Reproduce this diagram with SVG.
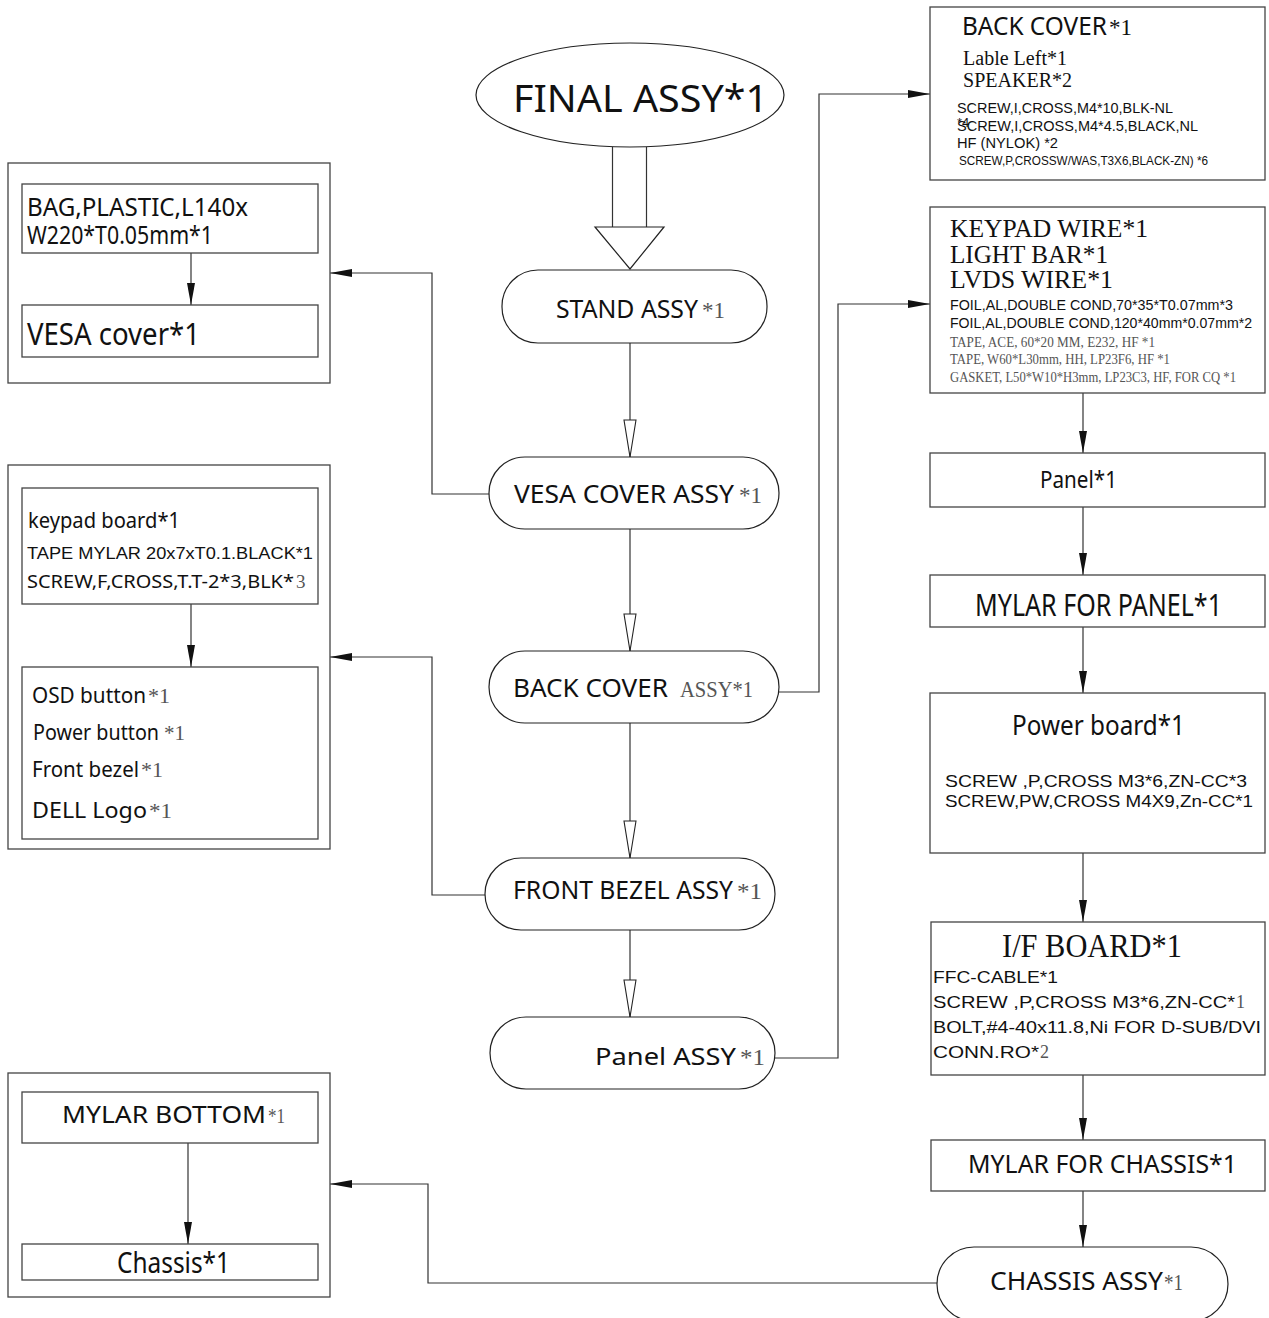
<svg xmlns="http://www.w3.org/2000/svg" width="1269" height="1318" viewBox="0 0 1269 1318">
<defs>
<style>
.box{fill:none;stroke:#444;stroke-width:1.3}
.pill{fill:#fff;stroke:#222;stroke-width:1.2}
.conn{fill:none;stroke:#333;stroke-width:1.2}
.s{font-family:"Noto Sans","Open Sans",sans-serif;fill:#111}
.a{font-family:"Liberation Sans",Arial,sans-serif;fill:#111}
.t{font-family:"Liberation Serif","Times New Roman",serif;fill:#111}
.g{fill:#555}
</style>
<marker id="fa" viewBox="0 0 22 8" refX="22" refY="4" markerWidth="22" markerHeight="8" markerUnits="userSpaceOnUse" orient="auto">
<path d="M0,0 L22,4 L0,8 Z" fill="#111"/>
</marker>
<marker id="ha" viewBox="-1 -7 39 14" refX="37" refY="0" markerWidth="39" markerHeight="14" markerUnits="userSpaceOnUse" orient="auto" overflow="visible">
<path d="M0,-6 L37,0 L0,6 Z" fill="#fff" stroke="#222" stroke-width="1.1"/>
</marker>
</defs>
<rect width="1269" height="1318" fill="#fff"/>

<g id="connectors">
<line class="conn" x1="612.5" y1="147" x2="612.5" y2="227"/>
<line class="conn" x1="646.5" y1="147" x2="646.5" y2="227"/>
<polygon points="595,227 664,227 630,269" fill="#fff" stroke="#222" stroke-width="1.2"/>
<line class="conn" x1="630" y1="343" x2="630" y2="457" marker-end="url(#ha)"/>
<line class="conn" x1="630" y1="529" x2="630" y2="651" marker-end="url(#ha)"/>
<line class="conn" x1="630" y1="723" x2="630" y2="858" marker-end="url(#ha)"/>
<line class="conn" x1="630" y1="930" x2="630" y2="1017" marker-end="url(#ha)"/>
<polyline class="conn" points="489,494 432,494 432,273 330,273" marker-end="url(#fa)"/>
<polyline class="conn" points="485,895 432,895 432,657 330,657" marker-end="url(#fa)"/>
<polyline class="conn" points="937,1283 428,1283 428,1184 330,1184" marker-end="url(#fa)"/>
<polyline class="conn" points="779,692 819,692 819,94 930,94" marker-end="url(#fa)"/>
<polyline class="conn" points="775,1058 838,1058 838,304 930,304" marker-end="url(#fa)"/>
<line class="conn" x1="1083" y1="393" x2="1083" y2="453" marker-end="url(#fa)"/>
<line class="conn" x1="1083" y1="507" x2="1083" y2="575" marker-end="url(#fa)"/>
<line class="conn" x1="1083" y1="627" x2="1083" y2="693" marker-end="url(#fa)"/>
<line class="conn" x1="1083" y1="853" x2="1083" y2="922" marker-end="url(#fa)"/>
<line class="conn" x1="1083" y1="1075" x2="1083" y2="1140" marker-end="url(#fa)"/>
<line class="conn" x1="1083" y1="1191" x2="1083" y2="1247" marker-end="url(#fa)"/>
<line class="conn" x1="191" y1="253" x2="191" y2="305" marker-end="url(#fa)"/>
<line class="conn" x1="191" y1="604" x2="191" y2="667" marker-end="url(#fa)"/>
<line class="conn" x1="188" y1="1143" x2="188" y2="1244" marker-end="url(#fa)"/>
</g>

<g id="final-assy">
<ellipse cx="630" cy="95" rx="154" ry="52" class="pill"/>
<text class="s" x="513" y="112" font-size="38" textLength="255" lengthAdjust="spacingAndGlyphs">FINAL ASSY*1</text>
</g>
<g id="stand-assy">
<rect x="502" y="270" width="265" height="73" rx="36" class="pill"/>
<text class="s" y="318" font-size="25"><tspan x="556" textLength="142" lengthAdjust="spacingAndGlyphs">STAND ASSY</tspan><tspan class="t g" x="702" font-size="23" textLength="23" lengthAdjust="spacingAndGlyphs">*1</tspan></text>
</g>
<g id="vesa-cover-assy">
<rect x="489" y="457" width="290" height="72" rx="36" class="pill"/>
<text class="s" y="503" font-size="25"><tspan x="514" textLength="220" lengthAdjust="spacingAndGlyphs">VESA COVER  ASSY</tspan><tspan class="t g" x="739" font-size="23" textLength="23" lengthAdjust="spacingAndGlyphs">*1</tspan></text>
</g>
<g id="back-cover-assy">
<rect x="489" y="651" width="290" height="72" rx="36" class="pill"/>
<text class="s" y="697" font-size="25"><tspan x="513" textLength="155" lengthAdjust="spacingAndGlyphs">BACK COVER</tspan><tspan class="t g" x="680" font-size="23" textLength="73" lengthAdjust="spacingAndGlyphs">ASSY*1</tspan></text>
</g>
<g id="front-bezel-assy">
<rect x="485" y="858" width="290" height="72" rx="36" class="pill"/>
<text class="s" y="899" font-size="25"><tspan x="513" textLength="220" lengthAdjust="spacingAndGlyphs">FRONT BEZEL ASSY</tspan><tspan class="t g" x="737" font-size="23" textLength="25" lengthAdjust="spacingAndGlyphs">*1</tspan></text>
</g>
<g id="panel-assy">
<rect x="490" y="1017" width="285" height="72" rx="36" class="pill"/>
<text class="s" y="1065" font-size="23"><tspan x="595" textLength="141" lengthAdjust="spacingAndGlyphs">Panel ASSY</tspan><tspan class="t g" x="740" font-size="23" textLength="25" lengthAdjust="spacingAndGlyphs">*1</tspan></text>
</g>

<g id="vesa-group">
<rect x="8" y="163" width="322" height="220" class="box"/>
<g id="bag-plastic">
<rect x="22" y="184" width="296" height="69" class="box"/>
<text class="s" x="27" y="216" font-size="25" textLength="221" lengthAdjust="spacingAndGlyphs">BAG,PLASTIC,L140x</text>
<text class="s" x="27" y="244" font-size="25" textLength="186" lengthAdjust="spacingAndGlyphs">W220*T0.05mm*1</text>
</g>
<g id="vesa-cover">
<rect x="22" y="305" width="296" height="52" class="box"/>
<text class="s" x="27" y="345" font-size="30" textLength="173" lengthAdjust="spacingAndGlyphs">VESA cover*1</text>
</g>
</g>

<g id="front-bezel-group">
<rect x="8" y="465" width="322" height="384" class="box"/>
<g id="keypad-board">
<rect x="22" y="488" width="296" height="116" class="box"/>
<text class="s" x="28" y="528" font-size="22" textLength="152" lengthAdjust="spacingAndGlyphs">keypad board*1</text>
<text class="a" x="27" y="559" font-size="16.5" textLength="286" lengthAdjust="spacingAndGlyphs">TAPE MYLAR 20x7xT0.1.BLACK*1</text>
<text class="s" y="588" font-size="18"><tspan x="27" textLength="267" lengthAdjust="spacingAndGlyphs">SCREW,F,CROSS,T.T-2*3,BLK*</tspan><tspan class="t g" x="296" font-size="19">3</tspan></text>
</g>
<g id="front-bezel-parts">
<rect x="22" y="667" width="296" height="172" class="box"/>
<text class="s" y="703" font-size="21"><tspan x="32" textLength="114" lengthAdjust="spacingAndGlyphs">OSD button</tspan><tspan class="t g" x="148" font-size="21" textLength="22" lengthAdjust="spacingAndGlyphs">*1</tspan></text>
<text class="s" y="740" font-size="21"><tspan x="33" textLength="126" lengthAdjust="spacingAndGlyphs">Power button</tspan><tspan class="t g" x="164" font-size="21" textLength="21" lengthAdjust="spacingAndGlyphs">*1</tspan></text>
<text class="s" y="777" font-size="21"><tspan x="32" textLength="107" lengthAdjust="spacingAndGlyphs">Front bezel</tspan><tspan class="t g" x="141" font-size="21" textLength="22" lengthAdjust="spacingAndGlyphs">*1</tspan></text>
<text class="s" y="818" font-size="21"><tspan x="32" textLength="115" lengthAdjust="spacingAndGlyphs">DELL Logo</tspan><tspan class="t g" x="149" font-size="21" textLength="23" lengthAdjust="spacingAndGlyphs">*1</tspan></text>
</g>
</g>

<g id="chassis-group">
<rect x="8" y="1073" width="322" height="224" class="box"/>
<g id="mylar-bottom">
<rect x="22" y="1092" width="296" height="51" class="box"/>
<text class="s" y="1123" font-size="23"><tspan x="62" textLength="204" lengthAdjust="spacingAndGlyphs">MYLAR  BOTTOM</tspan><tspan class="t g" x="268" font-size="22" textLength="17" lengthAdjust="spacingAndGlyphs">*1</tspan></text>
</g>
<g id="chassis">
<rect x="22" y="1244" width="296" height="36" class="box"/>
<text class="s" x="117" y="1273" font-size="29" textLength="113" lengthAdjust="spacingAndGlyphs">Chassis*1</text>
</g>
</g>

<g id="back-cover-parts">
<rect x="930" y="7" width="335" height="173" class="box"/>
<text class="s" y="35" font-size="25"><tspan x="962" textLength="145" lengthAdjust="spacingAndGlyphs">BACK COVER</tspan><tspan class="t" x="1109" font-size="24" textLength="23" lengthAdjust="spacingAndGlyphs">*1</tspan></text>
<text class="t" x="963" y="65" font-size="20" textLength="104" lengthAdjust="spacingAndGlyphs">Lable Left*1</text>
<text class="t" x="963" y="87" font-size="20" textLength="109" lengthAdjust="spacingAndGlyphs">SPEAKER*2</text>
<text class="a" x="957" y="113" font-size="15" textLength="216" lengthAdjust="spacingAndGlyphs">SCREW,I,CROSS,M4*10,BLK-NL</text>
<text class="a" x="957" y="127" font-size="13">*4</text>
<text class="a" x="957" y="131" font-size="15" textLength="241" lengthAdjust="spacingAndGlyphs">SCREW,I,CROSS,M4*4.5,BLACK,NL</text>
<text class="a" x="957" y="148" font-size="15" textLength="101" lengthAdjust="spacingAndGlyphs">HF (NYLOK)  *2</text>
<text class="a" x="959" y="165" font-size="13" textLength="249" lengthAdjust="spacingAndGlyphs">SCREW,P,CROSSW/WAS,T3X6,BLACK-ZN) *6</text>
</g>

<g id="keypad-wire-parts">
<rect x="930" y="207" width="335" height="186" class="box"/>
<text class="t" x="950" y="237" font-size="26" textLength="198" lengthAdjust="spacingAndGlyphs">KEYPAD WIRE*1</text>
<text class="t" x="950" y="263" font-size="26" textLength="158" lengthAdjust="spacingAndGlyphs">LIGHT BAR*1</text>
<text class="t" x="950" y="288" font-size="26" textLength="163" lengthAdjust="spacingAndGlyphs">LVDS WIRE*1</text>
<text class="a" x="950" y="310" font-size="15.5" textLength="283" lengthAdjust="spacingAndGlyphs">FOIL,AL,DOUBLE COND,70*35*T0.07mm*3</text>
<text class="a" x="950" y="328" font-size="15.5" textLength="302" lengthAdjust="spacingAndGlyphs">FOIL,AL,DOUBLE COND,120*40mm*0.07mm*2</text>
<text class="t g" x="950" y="347" font-size="14" textLength="205" lengthAdjust="spacingAndGlyphs">TAPE, ACE, 60*20  MM, E232, HF  *1</text>
<text class="t g" x="950" y="364" font-size="14" textLength="220" lengthAdjust="spacingAndGlyphs">TAPE, W60*L30mm, HH, LP23F6, HF  *1</text>
<text class="t g" x="950" y="382" font-size="14" textLength="286" lengthAdjust="spacingAndGlyphs">GASKET, L50*W10*H3mm, LP23C3, HF, FOR  CQ  *1</text>
</g>

<g id="panel">
<rect x="930" y="453" width="335" height="54" class="box"/>
<text class="s" x="1040" y="488" font-size="23" textLength="77" lengthAdjust="spacingAndGlyphs">Panel*1</text>
</g>

<g id="mylar-for-panel">
<rect x="930" y="575" width="335" height="52" class="box"/>
<text class="s" x="975" y="616" font-size="30" textLength="247" lengthAdjust="spacingAndGlyphs">MYLAR FOR PANEL*1</text>
</g>

<g id="power-board">
<rect x="930" y="693" width="335" height="160" class="box"/>
<text class="s" x="1012" y="735" font-size="28" textLength="173" lengthAdjust="spacingAndGlyphs">Power board*1</text>
<text class="a" x="945" y="787" font-size="16.5" textLength="302" lengthAdjust="spacingAndGlyphs">SCREW ,P,CROSS M3*6,ZN-CC*3</text>
<text class="a" x="945" y="807" font-size="16.5" textLength="308" lengthAdjust="spacingAndGlyphs">SCREW,PW,CROSS M4X9,Zn-CC*1</text>
</g>

<g id="if-board">
<rect x="931" y="922" width="334" height="153" class="box"/>
<text class="t" x="1002" y="957" font-size="34" textLength="180" lengthAdjust="spacingAndGlyphs">I/F BOARD*1</text>
<text class="a" x="933" y="983" font-size="17" textLength="125" lengthAdjust="spacingAndGlyphs">FFC-CABLE*1</text>
<text class="a" y="1008" font-size="17"><tspan x="933" textLength="302" lengthAdjust="spacingAndGlyphs">SCREW ,P,CROSS M3*6,ZN-CC*</tspan><tspan class="t g" x="1236" font-size="18">1</tspan></text>
<text class="a" x="933" y="1033" font-size="17" textLength="328" lengthAdjust="spacingAndGlyphs">BOLT,#4-40x11.8,Ni FOR D-SUB/DVI</text>
<text class="a" y="1058" font-size="17"><tspan x="933" textLength="106" lengthAdjust="spacingAndGlyphs">CONN.RO*</tspan><tspan class="t g" x="1040" font-size="18">2</tspan></text>
</g>

<g id="mylar-for-chassis">
<rect x="931" y="1140" width="334" height="51" class="box"/>
<text class="s" x="968" y="1173" font-size="25" textLength="269" lengthAdjust="spacingAndGlyphs">MYLAR FOR CHASSIS*1</text>
</g>

<g id="chassis-assy">
<rect x="937" y="1247" width="291" height="74" rx="37" class="pill"/>
<text class="s" y="1290" font-size="25"><tspan x="990" textLength="173" lengthAdjust="spacingAndGlyphs">CHASSIS ASSY</tspan><tspan class="t g" x="1164" font-size="23" textLength="19" lengthAdjust="spacingAndGlyphs">*1</tspan></text>
</g>
</svg>
